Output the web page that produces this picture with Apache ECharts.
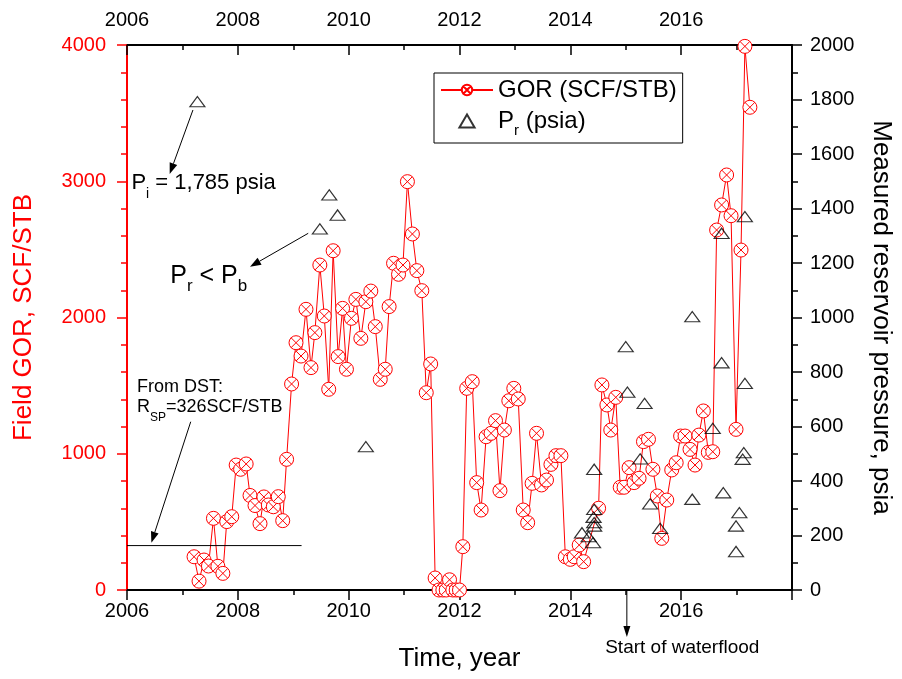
<!DOCTYPE html>
<html><head><meta charset="utf-8">
<script src="https://cdn.jsdelivr.net/npm/echarts@6/dist/echarts.min.js"></script>
<style>html,body{margin:0;padding:0;background:#fff}#c{width:902px;height:679px}</style>
</head><body><div id="c"></div>
<script>
// ---- data ----
const gorYears = [2007.21,2007.30,2007.39,2007.47,2007.56,2007.64,2007.73,2007.80,2007.89,2007.97,
  2008.05,2008.15,2008.22,2008.31,2008.40,2008.47,2008.55,2008.64,2008.73,2008.81,2008.88,2008.97,
  2009.05,2009.14,2009.23,2009.32,2009.39,2009.48,2009.56,2009.64,2009.72,2009.81,2009.89,2009.96,
  2010.05,2010.13,2010.22,2010.31,2010.40,2010.48,2010.57,2010.66,2010.73,2010.81,2010.90,2010.98,
  2011.06,2011.15,2011.23,2011.32,2011.40,2011.48,2011.56,2011.63,2011.70,2011.76,2011.82,2011.88,
  2011.94,2012.00,2012.06,2012.13,2012.23,2012.31,2012.39,2012.48,2012.57,2012.65,2012.73,2012.81,
  2012.89,2012.98,2013.06,2013.15,2013.23,2013.31,2013.39,2013.48,2013.57,2013.65,2013.74,2013.83,
  2013.91,2014.00,2014.07,2014.16,2014.24,2014.51,2014.57,2014.66,2014.73,2014.82,2014.90,2014.97,
  2015.06,2015.15,2015.24,2015.32,2015.41,2015.49,2015.57,2015.65,2015.74,2015.83,2015.91,2015.99,
  2016.07,2016.16,2016.25,2016.32,2016.40,2016.49,2016.57,2016.64,2016.73,2016.82,2016.90,2016.99,
  2017.08,2017.15,2017.24];
const gorValues = [244,65,220,176,526,174,122,502,538,917,
  886,925,694,620,487,683,624,611,685,509,959,1512,
  1815,1717,2060,1632,1889,2385,2011,1473,2490,1713,2067,1620,
  1994,2133,1847,2116,2194,1933,1546,1620,2080,2398,2317,2385,
  2997,2613,2344,2197,1448,1659,88,0,0,0,75,0,
  0,0,318,1480,1529,788,587,1125,1150,1243,729,1174,
  1389,1480,1402,587,494,783,1150,771,807,922,986,986,
  244,225,244,330,208,600,1505,1358,1174,1414,754,754,
  898,788,820,1089,1106,886,690,379,660,881,934,1130,
  1130,1032,917,1137,1314,1010,1015,2642,2826,3046,2747,1179,
  2495,3990,3543];
const prYears = [2007.27,2009.48,2009.65,2009.80,2010.31,2014.21,2014.33,2014.41,2014.43,2014.43,
  2014.42,2014.43,2014.43,2015.00,2015.03,2015.26,2015.34,2015.44,2015.62,2016.20,2016.20,2016.57,
  2016.73,2016.73,2016.76,2016.99,2016.99,2017.05,2017.11,2017.13,2017.15,2017.15];
const prValues = [1792,1325,1450,1376,526,210,196,174,247,235,
  267,296,443,893,726,481,685,316,226,1003,333,593,
  1309,834,357,141,235,284,480,504,758,1370];
const yearTicks = [2006,2008,2010,2012,2014,2016];
const gorTicks = [0,1000,2000,3000,4000];
const prTicks = [0,200,400,600,800,1000,1200,1400,1600,1800,2000];

// ---- chart ----
const FONT = '"Liberation Sans", Arial, sans-serif';
const chart = echarts.init(document.getElementById('c'));
const gorData = gorYears.map((x, i) => [x, gorValues[i]]);
const prData = prYears.map((x, i) => [x, prValues[i]]);
const MARK = 'path://M7,0A7,7,0,1,1,-7,0A7,7,0,1,1,7,0ZM-4.95,-4.95L4.95,4.95M4.95,-4.95L-4.95,4.95';
const TRI = 'path://M0,12L7,0L14,12Z';
const xFmt = v => yearTicks.includes(v) ? String(v) : '';
const numFmt = v => String(v);

function xAxisCfg(pos) {
  const top = pos === 'top';
  return {
    type: 'value', position: pos, min: yearTicks[0], max: 2018, interval: 2,
    axisLine: {show: true, onZero: false, lineStyle: {color: '#000', width: 2}},
    axisTick: {show: true, inside: top, length: 10, lineStyle: {color: '#000', width: 1.5}},
    minorTick: {show: true, splitNumber: 2, length: 5, lineStyle: {color: '#000', width: 1.5}},
    axisLabel: {show: true, margin: top ? 15 : 11, fontSize: 20, color: '#000', fontFamily: FONT,
      formatter: xFmt, showMinLabel: true, showMaxLabel: true},
    splitLine: {show: false}, minorSplitLine: {show: false},
    name: top ? '' : 'Time, year', nameLocation: 'middle', nameGap: 56,
    nameTextStyle: {fontSize: 26, color: '#000', fontFamily: FONT}
  };
}

const option = {
  animation: false,
  backgroundColor: '#fff',
  grid: {left: 127, right: 110, top: 45, bottom: 89, containLabel: false},
  xAxis: [xAxisCfg('bottom'), xAxisCfg('top')],
  yAxis: [
    {type: 'value', position: 'left', min: gorTicks[0], max: gorTicks[gorTicks.length - 1], interval: 1000,
      axisLine: {show: true, onZero: false, lineStyle: {color: '#ff0000', width: 2}},
      axisTick: {show: true, length: 10, lineStyle: {color: '#ff0000', width: 1.5}},
      minorTick: {show: true, splitNumber: 5, length: 6, lineStyle: {color: '#ff0000', width: 1.5}},
      axisLabel: {margin: 21, fontSize: 20, color: '#ff0000', fontFamily: FONT, formatter: numFmt,
        showMinLabel: true, showMaxLabel: true},
      splitLine: {show: false},
      name: 'Field GOR, SCF/STB', nameLocation: 'middle', nameGap: 90, nameRotate: 90,
      nameTextStyle: {fontSize: 26, color: '#ff0000', fontFamily: FONT}},
    {type: 'value', position: 'right', min: prTicks[0], max: prTicks[prTicks.length - 1], interval: 200,
      axisLine: {show: true, onZero: false, lineStyle: {color: '#000', width: 2}},
      axisTick: {show: true, length: 10, lineStyle: {color: '#000', width: 1.5}},
      minorTick: {show: true, splitNumber: 2, length: 6, lineStyle: {color: '#000', width: 1.5}},
      axisLabel: {margin: 18, fontSize: 20, color: '#000', fontFamily: FONT, formatter: numFmt,
        showMinLabel: true, showMaxLabel: true},
      splitLine: {show: false},
      name: 'Measured reservoir pressure, psia', nameLocation: 'middle', nameGap: 76, nameRotate: -90,
      nameTextStyle: {fontSize: 26, color: '#000', fontFamily: FONT}}
  ],
  legend: {
    show: true, orient: 'vertical', left: 434, top: 73, align: 'left',
    padding: [5, 6, 5, 6], borderColor: '#000', borderWidth: 1, backgroundColor: '#fff',
    itemWidth: 52, itemHeight: 13, itemGap: 2,
    data: ['GOR (SCF/STB)', 'Pr (psia)'],
    textStyle: {fontSize: 24, fontFamily: FONT, color: '#000',
      rich: {
        m: {fontSize: 24, fontFamily: FONT, color: '#000', verticalAlign: 'middle'},
        s: {fontSize: 15, fontFamily: FONT, color: '#000', lineHeight: 15, padding: [19, 0, 0, 0], verticalAlign: 'middle'}
      }},
    formatter: n => n === 'Pr (psia)' ? '{m|P}{s|r}{m| (psia)}' : n
  },
  series: [
    {name: 'GOR (SCF/STB)', type: 'line', xAxisIndex: 0, yAxisIndex: 0, data: gorData,
      symbol: MARK, symbolSize: 14, showSymbol: true, symbolKeepAspect: true,
      lineStyle: {color: '#ff0000', width: 1},
      itemStyle: {color: '#fff', borderColor: '#ff0000', borderWidth: 1},
      emphasis: {disabled: true}, z: 2},
    {name: 'Pr (psia)', type: 'scatter', xAxisIndex: 0, yAxisIndex: 1, data: prData,
      symbol: TRI, symbolSize: [15, 12], symbolKeepAspect: true,
      itemStyle: {color: 'rgba(0,0,0,0)', borderColor: '#000', borderWidth: 1.2},
      emphasis: {disabled: true}, z: 3}
  ]
};
chart.setOption(option);

// ---- annotations, placed in data coordinates (year, GOR) ----
const px = (x, y) => chart.convertToPixel({xAxisIndex: 0, yAxisIndex: 0}, [x, y]);
function arrow(a, b, head, hw) {
  const p0 = px(a[0], a[1]), p1 = px(b[0], b[1]);
  const dx = p1[0] - p0[0], dy = p1[1] - p0[1], L = Math.hypot(dx, dy);
  const ux = dx / L, uy = dy / L;
  const bx = p1[0] - ux * head, by = p1[1] - uy * head;
  return [
    {type: 'line', shape: {x1: p0[0], y1: p0[1], x2: bx, y2: by}, style: {stroke: '#000', lineWidth: 1}, z: 10},
    {type: 'polygon', shape: {points: [[p1[0], p1[1]], [bx - uy * hw, by + ux * hw], [bx + uy * hw, by - ux * hw]]},
      style: {fill: '#000'}, z: 10}
  ];
}
function rtext(x, y, text, big, small, pad, align) {
  const p = px(x, y);
  return {type: 'text', x: p[0], y: p[1], z: 10, style: {
    text: text, fontSize: big, fontFamily: FONT, fill: '#000', align: align || 'left', verticalAlign: 'middle',
    rich: {
      m: {fontSize: big, fontFamily: FONT, fill: '#000', verticalAlign: 'middle'},
      s: {fontSize: small, fontFamily: FONT, fill: '#000', lineHeight: small, padding: [pad, 0, 0, 0], verticalAlign: 'middle'}
    }}};
}
const dst0 = px(2006, 326), dst1 = px(2009.15, 326);
const graphics = [
  {type: 'line', shape: {x1: dst0[0], y1: dst0[1], x2: dst1[0], y2: dst1[1]}, style: {stroke: '#000', lineWidth: 1}, z: 10},
  ...arrow([2007.19, 3523], [2006.77, 3053], 11, 4),
  ...arrow([2009.27, 2618], [2008.22, 2373], 11, 4),
  ...arrow([2007.15, 1235], [2006.44, 347], 11, 4),
  ...arrow([2015.02, 0], [2015.02, -345], 11, 3.5),
  rtext(2006.08, 2987, '{m|P}{s|i}{m| = 1,785 psia}', 22, 14, 22),
  rtext(2006.78, 2305, '{m|P}{s|r}{m| < P}{s|b}', 25, 17, 20),
  rtext(2006.18, 1490, '{m|From DST:}', 18, 12, 0),
  rtext(2006.18, 1343, '{m|R}{s|SP}{m|=326SCF/STB}', 18, 12, 22),
  rtext(2016.02, -426, '{m|Start of waterflood}', 19, 12, 0, 'center')
];
chart.setOption({graphic: graphics});
</script></body></html>
